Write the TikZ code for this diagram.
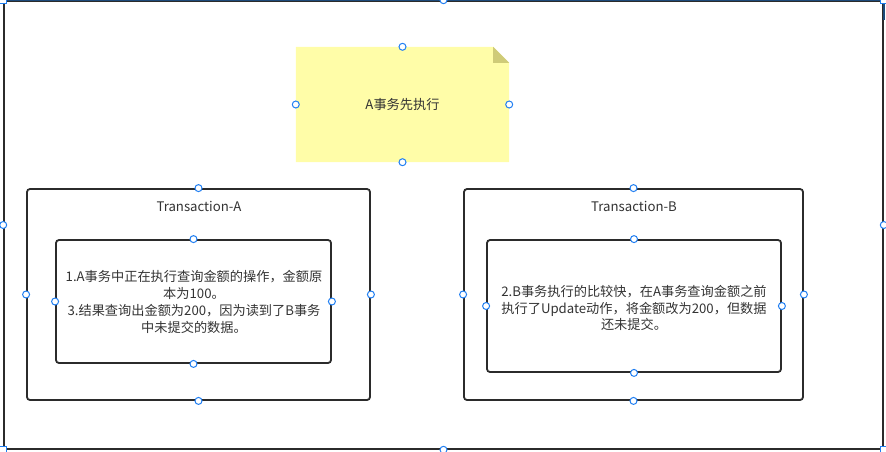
\documentclass[tikz,border=0pt]{standalone}
\usepackage{fontspec}
\setmainfont{Noto Sans CJK SC}
\usetikzlibrary{backgrounds}
\definecolor{txt}{HTML}{333333}
\definecolor{edge}{HTML}{2B2B2B}
\definecolor{hblue}{HTML}{1F7EF2}
\definecolor{notefill}{HTML}{FFFDA8}
\definecolor{foldfill}{HTML}{CFCB78}
\definecolor{topblue}{HTML}{1D4A7A}
\tikzset{
  box/.style={draw=edge, line width=1.8pt, rounded corners=3pt, inner sep=0pt},
  handle/.style={circle, draw=hblue, fill=white, line width=1pt, minimum size=7pt, inner sep=0pt},
  corner/.style={rectangle, draw=hblue, fill=white, line width=1.2pt, minimum size=7pt, inner sep=0pt},
  lbl/.style={text=txt, font=\fontsize{13.2}{16.8}\selectfont, align=center, inner sep=0pt},
}
\begin{document}
\begin{tikzpicture}[x=1pt,y=-1pt]
\useasboundingbox (0,0) rectangle (886,451);
% outer selection frame
\node[draw=edge, line width=1.6pt, minimum width=879pt, minimum height=448pt, inner sep=0pt] (frame) at (443.5,225) {};
\draw[topblue, line width=1.6pt] (frame.north west) -- (frame.north east) -- ([yshift=-20pt]frame.north east);
% note
\node[minimum width=213pt, minimum height=115pt, inner sep=0pt] (note) at (402.5,104.5) {};
\begin{scope}[on background layer]
\fill[notefill] (note.north west) -- ([xshift=-16pt]note.north east) -- ([yshift=-16pt]note.north east) -- (note.south east) -- (note.south west) -- cycle;
\fill[foldfill] ([xshift=-16pt]note.north east) -- ([yshift=-16pt]note.north east) -- ([xshift=-16pt,yshift=-16pt]note.north east) -- cycle;
\end{scope}
\node[lbl] (notetext) at (note.center) {A事务先执行};
% transaction A
\node[box, minimum width=343pt, minimum height=211pt] (ta) at (198.5,294.5) {};
\node[lbl] (tatitle) at (199,206) {Transaction-A};
\node[box, minimum width=275pt, minimum height=123pt] (ia) at (193.5,301.5) {};
\node[lbl] (iatext) at (194,302) {1.A事务中正在执行查询金额的操作，金额原\\本为100。\\3.结果查询出金额为200，因为读到了B事务\\中未提交的数据。};
% transaction B
\node[box, minimum width=339pt, minimum height=211pt] (tb) at (633.5,294.5) {};
\node[lbl] (tbtitle) at (634,206) {Transaction-B};
\node[box, minimum width=294pt, minimum height=132pt] (ib) at (634,306) {};
\node[lbl] (ibtext) at (634,308) {2.B事务执行的比较快，在A事务查询金额之前\\执行了Update动作，将金额改为200，但数据\\还未提交。};
% handles
\foreach \n in {note,ta,ia,tb,ib,frame}{
  \node[handle] (\n-hn) at (\n.north) {};
  \node[handle] (\n-hs) at (\n.south) {};
  \node[handle] (\n-he) at (\n.east) {};
  \node[handle] (\n-hw) at (\n.west) {};
}
\foreach \c in {north west,north east,south west,south east}{
  \node[corner] (frame-\c) at (frame.\c) {};
}
\end{tikzpicture}
\end{document}
